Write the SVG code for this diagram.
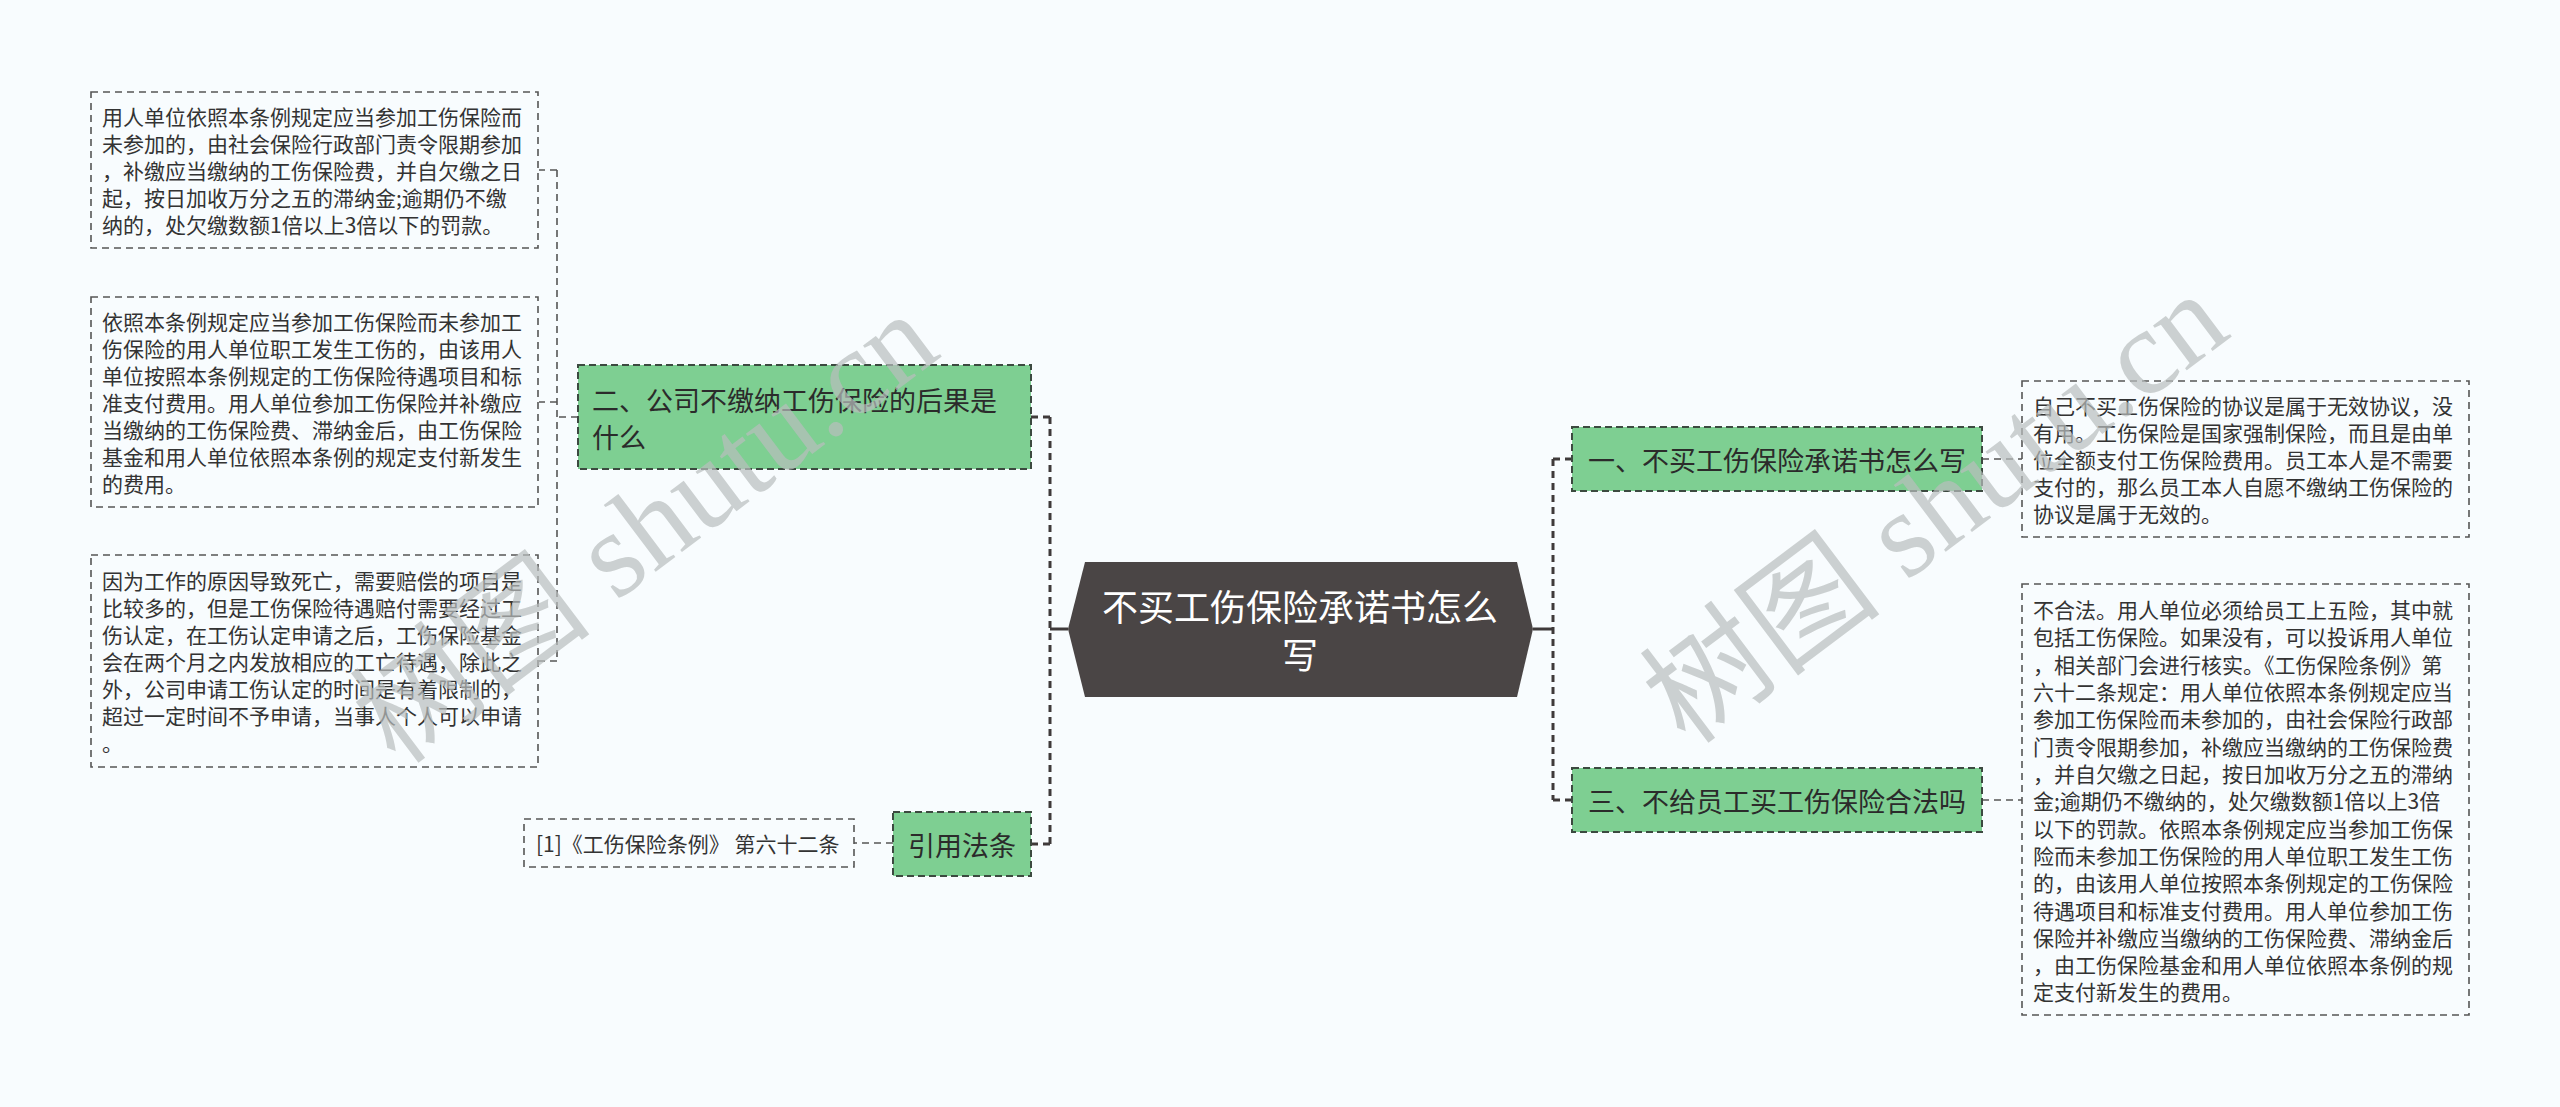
<svg xmlns="http://www.w3.org/2000/svg" width="2560" height="1107" viewBox="0 0 2560 1107">
<style>
.bg{fill:#f8fcfe}
.box{fill:#f8fcfe;stroke:#555555;stroke-width:1.6;stroke-dasharray:7 5}
.green{fill:#7ecf92;stroke:#3c4a40;stroke-width:2;stroke-dasharray:7 4}
.main{fill:#4a4545}
.t{font-family:"Noto Sans CJK SC","Noto Sans",sans-serif;font-size:21px;fill:#333333;dominant-baseline:central}
.g{font-family:"Noto Sans CJK SC","Noto Sans",sans-serif;font-size:27px;fill:#2b2b2b;dominant-baseline:central}
.m{font-family:"Noto Sans CJK SC","Noto Sans",sans-serif;font-size:36px;fill:#ffffff;dominant-baseline:central;text-anchor:middle}
.thick{fill:none;stroke:#3f3a3a;stroke-width:3;stroke-dasharray:7 5}
.solid{fill:none;stroke:#3f3a3a;stroke-width:3}
.thin{fill:none;stroke:#555555;stroke-width:1.6;stroke-dasharray:7 5}
.wm{font-family:"Liberation Serif","Noto Sans CJK SC",serif;font-size:122px;fill:#b9bebe;opacity:0.7;text-anchor:middle;dominant-baseline:central}
</style>
<rect class="bg" x="0" y="0" width="2560" height="1107"/>

<g id="connectors">
  <path class="solid" d="M1068 629 H1050"/>
  <path class="solid" d="M1533 629 H1553"/>
  <path class="thick" d="M1050 417 V844"/>
  <path class="thick" d="M1050 417 H1031"/>
  <path class="thick" d="M1050 844 H1031"/>
  <path class="thick" d="M1553 459 V800"/>
  <path class="thick" d="M1553 459 H1572"/>
  <path class="thick" d="M1553 800 H1572"/>
  <path class="thin" d="M557 170 V661"/>
  <path class="thin" d="M578 417 H557"/>
  <path class="thin" d="M557 170 H539"/>
  <path class="thin" d="M557 402 H539"/>
  <path class="thin" d="M557 661 H539"/>
  <path class="thin" d="M893 843 H854"/>
  <path class="thin" d="M1982 459 H2022"/>
  <path class="thin" d="M1982 800 H2022"/>
</g>

<g id="main">
  <polygon class="main" points="1085,562 1517,562 1533,629 1517,697 1085,697 1068,629"/>
  <text class="m"><tspan x="1300" y="605">不买工伤保险承诺书怎么</tspan><tspan x="1300" y="653">写</tspan></text>
</g>

<g id="node-er">
  <rect class="green" x="578" y="365" width="453" height="104"/>
  <text class="g"><tspan x="592" y="399">二、公司不缴纳工伤保险的后果是</tspan><tspan x="592" y="436">什么</tspan></text>
</g>

<g id="node-yinyong">
  <rect class="green" x="893" y="812" width="138" height="64"/>
  <text class="g" x="962" y="844" text-anchor="middle">引用法条</text>
</g>

<g id="node-yi">
  <rect class="green" x="1572" y="427" width="410" height="64"/>
  <text class="g" x="1777" y="459" text-anchor="middle">一、不买工伤保险承诺书怎么写</text>
</g>

<g id="node-san">
  <rect class="green" x="1572" y="768" width="410" height="64"/>
  <text class="g" x="1777" y="800" text-anchor="middle">三、不给员工买工伤保险合法吗</text>
</g>

<g id="leaf-law">
  <rect class="box" x="524" y="819" width="330" height="48"/>
  <text class="t" x="536" y="843">[1]《工伤保险条例》 第六十二条</text>
</g>

<g id="leaf-l1">
  <rect class="box" x="91" y="92" width="447" height="156"/>
  <text class="t">
    <tspan x="102" y="116">用人单位依照本条例规定应当参加工伤保险而</tspan>
    <tspan x="102" y="143">未参加的，由社会保险行政部门责令限期参加</tspan>
    <tspan x="102" y="170">，补缴应当缴纳的工伤保险费，并自欠缴之日</tspan>
    <tspan x="102" y="197">起，按日加收万分之五的滞纳金;逾期仍不缴</tspan>
    <tspan x="102" y="224">纳的，处欠缴数额1倍以上3倍以下的罚款。</tspan>
  </text>
</g>

<g id="leaf-l2">
  <rect class="box" x="91" y="297" width="447" height="210"/>
  <text class="t">
    <tspan x="102" y="321">依照本条例规定应当参加工伤保险而未参加工</tspan>
    <tspan x="102" y="348">伤保险的用人单位职工发生工伤的，由该用人</tspan>
    <tspan x="102" y="375">单位按照本条例规定的工伤保险待遇项目和标</tspan>
    <tspan x="102" y="402">准支付费用。用人单位参加工伤保险并补缴应</tspan>
    <tspan x="102" y="429">当缴纳的工伤保险费、滞纳金后，由工伤保险</tspan>
    <tspan x="102" y="456">基金和用人单位依照本条例的规定支付新发生</tspan>
    <tspan x="102" y="483">的费用。</tspan>
  </text>
</g>

<g id="leaf-l3">
  <rect class="box" x="91" y="555" width="447" height="212"/>
  <text class="t">
    <tspan x="102" y="580">因为工作的原因导致死亡，需要赔偿的项目是</tspan>
    <tspan x="102" y="607">比较多的，但是工伤保险待遇赔付需要经过工</tspan>
    <tspan x="102" y="634">伤认定，在工伤认定申请之后，工伤保险基金</tspan>
    <tspan x="102" y="661">会在两个月之内发放相应的工亡待遇，除此之</tspan>
    <tspan x="102" y="688">外，公司申请工伤认定的时间是有着限制的，</tspan>
    <tspan x="102" y="715">超过一定时间不予申请，当事人个人可以申请</tspan>
    <tspan x="102" y="742">。</tspan>
  </text>
</g>

<g id="leaf-r1">
  <rect class="box" x="2022" y="381" width="447" height="156"/>
  <text class="t">
    <tspan x="2033" y="405">自己不买工伤保险的协议是属于无效协议，没</tspan>
    <tspan x="2033" y="432">有用。工伤保险是国家强制保险，而且是由单</tspan>
    <tspan x="2033" y="459">位全额支付工伤保险费用。员工本人是不需要</tspan>
    <tspan x="2033" y="486">支付的，那么员工本人自愿不缴纳工伤保险的</tspan>
    <tspan x="2033" y="513">协议是属于无效的。</tspan>
  </text>
</g>

<g id="leaf-r2">
  <rect class="box" x="2022" y="584" width="447" height="431"/>
  <text class="t">
    <tspan x="2033" y="609">不合法。用人单位必须给员工上五险，其中就</tspan>
    <tspan x="2033" y="636">包括工伤保险。如果没有，可以投诉用人单位</tspan>
    <tspan x="2033" y="664">，相关部门会进行核实。《工伤保险条例》第</tspan>
    <tspan x="2033" y="691">六十二条规定：用人单位依照本条例规定应当</tspan>
    <tspan x="2033" y="718">参加工伤保险而未参加的，由社会保险行政部</tspan>
    <tspan x="2033" y="746">门责令限期参加，补缴应当缴纳的工伤保险费</tspan>
    <tspan x="2033" y="773">，并自欠缴之日起，按日加收万分之五的滞纳</tspan>
    <tspan x="2033" y="800">金;逾期仍不缴纳的，处欠缴数额1倍以上3倍</tspan>
    <tspan x="2033" y="828">以下的罚款。依照本条例规定应当参加工伤保</tspan>
    <tspan x="2033" y="855">险而未参加工伤保险的用人单位职工发生工伤</tspan>
    <tspan x="2033" y="882">的，由该用人单位按照本条例规定的工伤保险</tspan>
    <tspan x="2033" y="910">待遇项目和标准支付费用。用人单位参加工伤</tspan>
    <tspan x="2033" y="937">保险并补缴应当缴纳的工伤保险费、滞纳金后</tspan>
    <tspan x="2033" y="964">，由工伤保险基金和用人单位依照本条例的规</tspan>
    <tspan x="2033" y="991">定支付新发生的费用。</tspan>
  </text>
</g>

<g id="watermarks">
  <text class="wm" transform="translate(645 528) rotate(-37)">树图 shutu.cn</text>
  <text class="wm" transform="translate(1935 508) rotate(-37)">树图 shutu.cn</text>
</g>
</svg>
